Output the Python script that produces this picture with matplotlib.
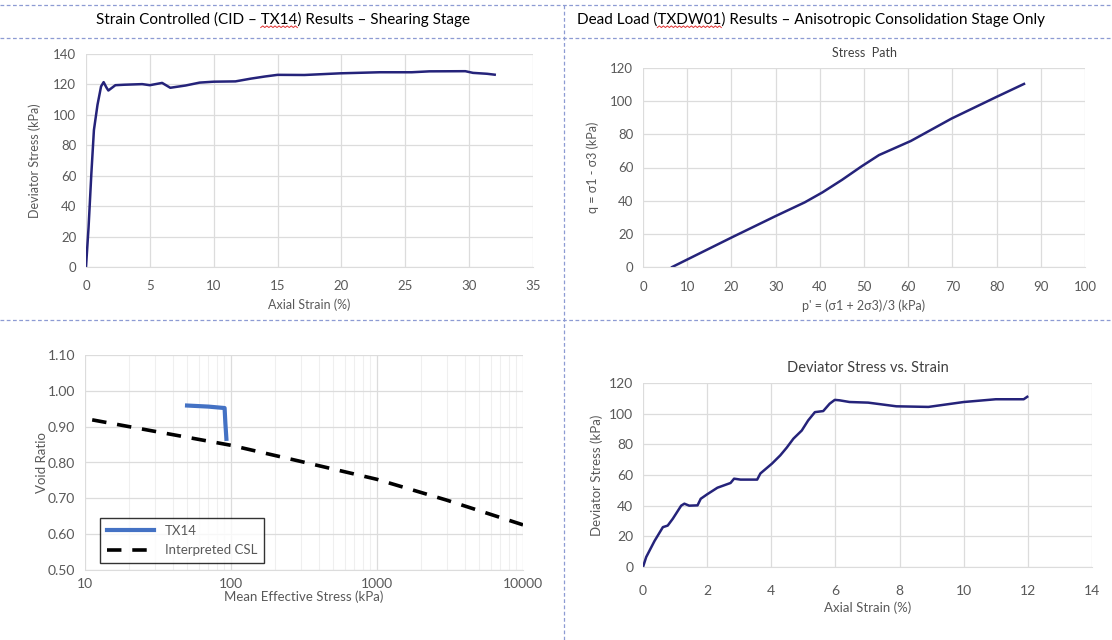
import matplotlib
matplotlib.use("Agg")
import matplotlib.pyplot as plt
import numpy as np
from matplotlib.ticker import FixedLocator, LogLocator, NullFormatter

plt.rcParams['font.family'] = ['Lato', 'DejaVu Sans']

# ---------------- data ----------------
# Top-left: Strain controlled TX14 shearing stage
tl_strain = [0, 0.2, 0.42, 0.62, 0.9, 1.18, 1.38, 1.6, 1.75, 2.3, 3.0, 4.4, 5.0, 5.96, 6.6,
             7.8, 8.9, 10.0, 11.7, 12.9, 14.0, 15.0, 17.1, 19.9, 23.0, 25.5, 26.9, 29.7,
             30.3, 31.4, 32.0]
tl_q = [0, 26, 61.5, 90, 106.6, 118.7, 121.5, 118, 116, 119.5, 119.8, 120.2, 119.5, 121.0, 117.8,
        119.3, 121.2, 121.8, 122.0, 123.8, 125.2, 126.3, 126.2, 127.3, 128.0, 128.0, 128.6, 128.7,
        127.6, 127.0, 126.4]

# Top-right: stress path
sp_p = [6.6, 20.2, 30.0, 36.6, 40.6, 45.0, 49.4, 53.4, 60.6, 69.8, 80.0, 86.2]
sp_q = [0, 18, 30.7, 39, 45, 52.5, 60.6, 67.5, 76, 89.5, 102.6, 110.4]

# Bottom-left: void ratio vs mean effective stress
tx14_p = [50, 70, 90.4, 91.5, 93]
tx14_e = [0.959, 0.956, 0.952, 0.91, 0.866]
csl_p = [11.2, 30, 100, 300, 1000, 3000, 10000]
csl_e = [0.919, 0.887, 0.848, 0.803, 0.753, 0.695, 0.626]

# Bottom-right: deviator stress vs strain (dead load)
br_strain = [0, 0.1, 0.36, 0.62, 0.77, 0.93, 1.19, 1.29, 1.44, 1.7, 1.8, 2.0, 2.32, 2.73, 2.84,
             3.04, 3.56, 3.66, 4.02, 4.28, 4.48, 4.69, 4.95, 5.15, 5.36, 5.62, 5.82, 5.98, 6.13,
             6.44, 7.02, 7.9, 8.9, 10.0, 11.0, 11.87, 11.98]
br_q = [0, 6.5, 17, 26, 27, 31.5, 40, 41.3, 40, 40.2, 44.5, 47.4, 51.7, 54.8, 57.6,
        57, 57, 61, 67.4, 72.8, 77.8, 83.7, 89, 95.6, 101, 101.7, 106.5, 109, 108.7,
        107.6, 107.2, 104.8, 104.4, 107.6, 109.4, 109.4, 111]

tl_xticks = list(range(0, 36, 5))
tl_yticks = list(range(0, 141, 20))
tr_xticks = list(range(0, 101, 10))
tr_yticks = list(range(0, 121, 20))
bl_xticks = [10, 100, 1000, 10000]
bl_yticks = [0.5, 0.6, 0.7, 0.8, 0.9, 1.0, 1.1]
br_xticks = list(range(0, 15, 2))
br_yticks = list(range(0, 121, 20))

header_left = ["Strain Controlled (CID – ", "TX14", ") Results – Shearing Stage"]
header_right = ["Dead Load (", "TXDW01", ") Results – Anisotropic Consolidation Stage Only"]

# ---------------- figure ----------------
W, H = 1112, 640
fig = plt.figure(figsize=(W / 100, H / 100), dpi=100)
fig.patch.set_facecolor('white')

NAVY = '#25237a'
GRID = '#dcdcdc'
TXT = '#595959'
TFS = 9.5


def px_axes(x0, y0, x1, y1):
    return fig.add_axes([x0 / W, 1 - y1 / H, (x1 - x0) / W, (y1 - y0) / H])


def style(ax):
    for s in ['top', 'right', 'left']:
        ax.spines[s].set_visible(False)
    ax.spines['bottom'].set_color(GRID)
    ax.grid(True, which='major', color=GRID, linewidth=0.9)
    ax.set_axisbelow(True)
    ax.tick_params(length=0, labelsize=TFS, labelcolor=TXT, pad=7)


# dashed table lines
tcol = '#8d9bd3'
for yy in [5, 38, 320]:
    fig.add_artist(plt.Line2D([0, 1], [1 - yy / H, 1 - yy / H], color=tcol, lw=0.9,
                              ls=(0, (3, 2)), transform=fig.transFigure))
fig.add_artist(plt.Line2D([564 / W, 564 / W], [0, 1 - 5 / H], color=tcol, lw=0.9,
                          ls=(0, (3, 2)), transform=fig.transFigure))

# headers with spell-check squiggle under the code names
renderer = fig.canvas.get_renderer()


def header(parts, x_px, y_px, ha):
    full = fig.text(x_px / W, 1 - y_px / H, "".join(parts), ha=ha, va='center',
                    fontsize=11, color='black')
    bb = full.get_window_extent(renderer)
    pre = fig.text(0, 0, parts[0], fontsize=11)
    mid = fig.text(0, 0, parts[0] + parts[1], fontsize=11)
    x0 = bb.x0 + pre.get_window_extent(renderer).width
    x1 = bb.x0 + mid.get_window_extent(renderer).width
    pre.remove()
    mid.remove()
    n = int((x1 - x0) / 2) + 1
    xs = np.linspace(x0, x1, n)
    ys = bb.y0 - 1.0 + np.where(np.arange(n) % 2 == 0, 0.0, 1.6)
    fig.add_artist(plt.Line2D(xs / W, ys / H, color='#e03030', lw=0.7,
                              transform=fig.transFigure))


header(header_left, 283, 19, 'center')
header(header_right, 577, 19, 'left')

# ---- top-left ----
ax1 = px_axes(86, 54, 533, 267)
style(ax1)
ax1.plot(tl_strain, tl_q, color=NAVY, lw=1.8)
ax1.set_xlim(0, 35)
ax1.set_ylim(0, 140)
ax1.set_xticks(tl_xticks)
ax1.set_yticks(tl_yticks)
ax1.tick_params(axis='x', pad=9)
ax1.set_xlabel("Axial Strain (%)", fontsize=9, color=TXT, labelpad=5)
ax1.set_ylabel("Deviator Stress (kPa)", fontsize=9, color=TXT, labelpad=9)

# ---- top-right ----
ax2 = px_axes(643, 68, 1085, 267)
style(ax2)
ax2.plot(sp_p, sp_q, color=NAVY, lw=1.8)
ax2.set_xlim(0, 100)
ax2.set_ylim(0, 120)
ax2.set_xticks(tr_xticks)
ax2.set_yticks(tr_yticks)
ax2.tick_params(axis='x', pad=10)
ax2.set_title("Stress  Path", fontsize=9, color='#404040', pad=8)
ax2.set_xlabel("p' = (σ1 + 2σ3)/3 (kPa)", fontsize=9, color=TXT, labelpad=5)
ax2.set_ylabel("q = σ1 - σ3 (kPa)", fontsize=9, color=TXT, labelpad=8)

# ---- bottom-left ----
ax3 = px_axes(85, 355, 523, 570)
style(ax3)
ax3.set_xscale('log')
ax3.plot(csl_p, csl_e, color='black', lw=2.6, ls=(0, (4, 3)), label='Interpreted CSL')
ax3.plot(tx14_p, tx14_e, color='#4472c4', lw=3.0, label='TX14')
ax3.set_xlim(10, 10000)
ax3.set_ylim(0.5, 1.1)
ax3.xaxis.set_major_locator(FixedLocator(bl_xticks))
ax3.set_xticklabels([str(v) for v in bl_xticks])
ax3.xaxis.set_minor_locator(LogLocator(base=10, subs=range(2, 10)))
ax3.xaxis.set_minor_formatter(NullFormatter())
ax3.grid(True, which='minor', axis='x', color='#efefef', linewidth=0.8)
ax3.tick_params(which='minor', length=0)
ax3.tick_params(axis='y', labelsize=10)
ax3.tick_params(axis='x', labelsize=10, pad=6)
ax3.set_yticks(bl_yticks)
ax3.set_yticklabels([f"{v:.2f}" for v in bl_yticks])
ax3.set_xlabel("Mean Effective Stress (kPa)", fontsize=9.5, color=TXT, labelpad=0)
ax3.set_ylabel("Void Ratio", fontsize=9.5, color=TXT, labelpad=0)
h, l = ax3.get_legend_handles_labels()
leg = ax3.legend(h[::-1], l[::-1], loc='lower left', bbox_to_anchor=(0.025, 0.014),
                 fontsize=9.5, frameon=True, fancybox=False, edgecolor='black',
                 handlelength=3.6, borderpad=0.5, labelspacing=0.6, borderaxespad=0.3)
leg.get_frame().set_linewidth(1.0)
for t in leg.get_texts():
    t.set_color(TXT)

# ---- bottom-right ----
ax4 = px_axes(643, 383, 1092, 567)
style(ax4)
ax4.plot(br_strain, br_q, color=NAVY, lw=1.8)
ax4.set_xlim(0, 14)
ax4.set_ylim(0, 120)
ax4.set_xticks(br_xticks)
ax4.set_yticks(br_yticks)
ax4.tick_params(axis='x', labelsize=10, pad=13)
ax4.tick_params(axis='y', labelsize=10)
ax4.set_title("Deviator Stress vs. Strain", fontsize=10.5, color='#404040', pad=8)
ax4.set_xlabel("Axial Strain (%)", fontsize=9.5, color=TXT, labelpad=3)
ax4.set_ylabel("Deviator Stress (kPa)", fontsize=9.5, color=TXT, labelpad=4)

fig.savefig("out.png", dpi=100, facecolor='white')
